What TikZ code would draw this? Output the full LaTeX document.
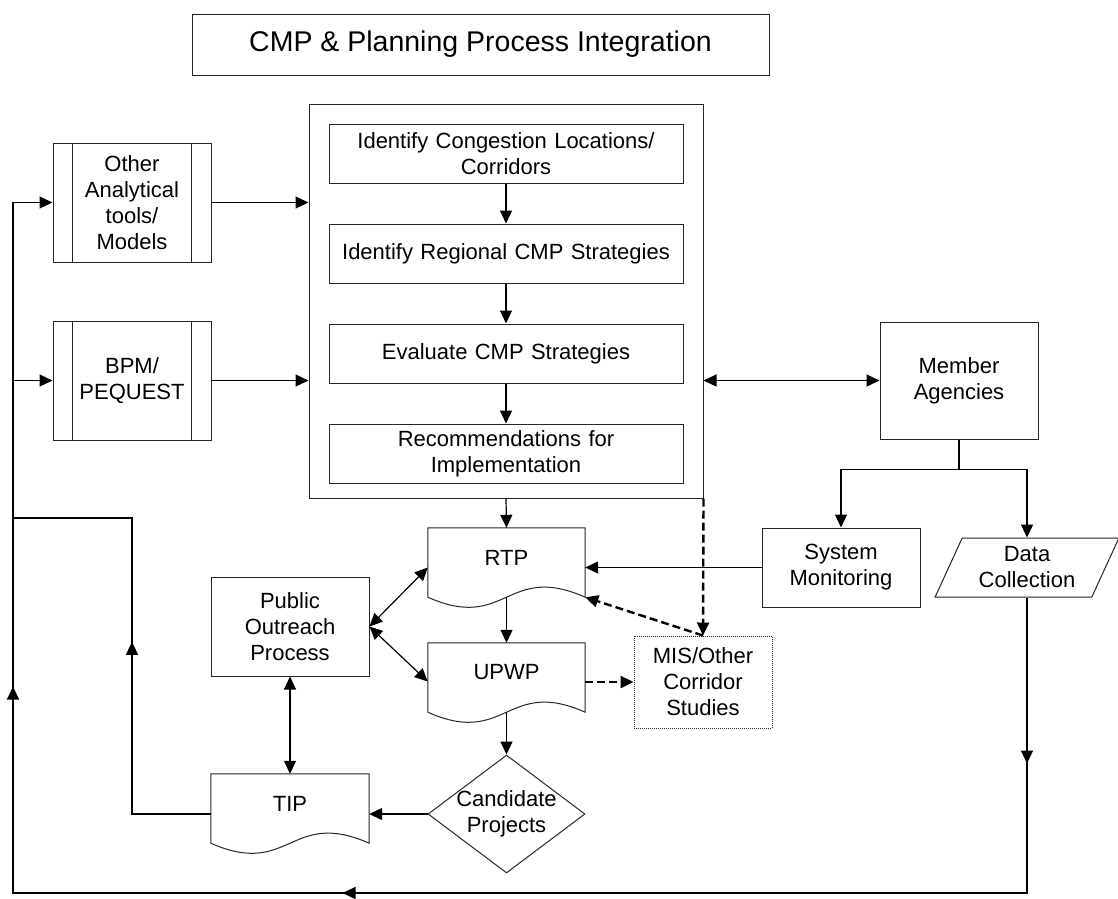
\documentclass[tikz,border=0pt]{standalone}
\usepackage{fontspec}
\setmainfont{Liberation Sans}
\usepackage{tikz}
\usetikzlibrary{arrows.meta,positioning,shapes.geometric,calc,decorations.markings}

\newcommand{\diagfont}{\fontsize{22}{26}\selectfont}
\newcommand{\cmptitlefont}{\fontsize{28.5}{32}\selectfont}
% wavy-bottom document outline round a named node
\newcommand{\docoutline}[1]{%
  \draw[boxline] (#1.north west) -- (#1.north east) -- ([yshift=-10pt]#1.south east)
    .. controls ($(#1.south)+(0,25)$) and ($(#1.south)+(0,-45)$) .. ([yshift=-10pt]#1.south west) -- cycle;}

\begin{document}
\begin{tikzpicture}[x=1pt, y=1pt,
    boxline/.style={draw=black!85, line width=1pt},
    block/.style={boxline, rectangle, align=center, inner sep=2pt, font=\diagfont},
    innerbox/.style={block, minimum width=354, minimum height=59, text width=340},
    subproc/.style={block, minimum width=158, minimum height=119},
    docnode/.style={rectangle, align=center, inner sep=2pt, font=\diagfont, minimum width=157, minimum height=59},
    decision/.style={diamond, boxline, aspect=1.33, align=center, inner sep=-12pt, minimum width=157, minimum height=118, font=\diagfont},
    iobox/.style={trapezium, trapezium left angle=64, trapezium right angle=116, trapezium stretches=true, boxline, align=center, inner sep=0pt, minimum width=184, minimum height=59, font=\diagfont},
    wire/.style={line width=1.2pt, draw=black},
    arrow/.style={wire, -{Triangle[length=13pt, width=12pt]}},
    dblarrow/.style={wire, {Triangle[length=13pt, width=12pt]}-{Triangle[length=13pt, width=12pt]}},
    dasharrow/.style={arrow, line width=2.4pt, dash pattern=on 8pt off 4pt}
]
\useasboundingbox (0,0) rectangle (1118,-898);

\node[block, font=\cmptitlefont, minimum width=577, minimum height=61] (title) at (480.5,-44.5) {CMP \& Planning Process Integration};

% CMP process column
\node[boxline, rectangle, minimum width=394, minimum height=394] (cmpbox) at (506,-301) {};
\node[innerbox] (idcong) at (506,-153.5) {Identify Congestion Locations/\\Corridors};
\node[innerbox, below=40pt of idcong] (idreg) {Identify Regional CMP Strategies};
\node[innerbox, below=40pt of idreg] (evalcmp) {Evaluate CMP Strategies};
\node[innerbox, below=40pt of evalcmp] (recomm) {Recommendations for\\Implementation};

\node[subproc] (tools) at (132,-202.5) {Other\\Analytical\\tools/\\Models};
\node[subproc] (bpm) at (132,-380.5) {BPM/\\PEQUEST};
\foreach \n in {tools,bpm}
  \draw[boxline] ([xshift=20pt]\n.north west) -- ([xshift=20pt]\n.south west)
                 ([xshift=-20pt]\n.north east) -- ([xshift=-20pt]\n.south east);

\node[block, minimum width=158, minimum height=117] (member) at (959,-380.5) {Member\\Agencies};
\node[block, minimum width=158, minimum height=79] (sysmon) at (841,-567.5) {System\\Monitoring};
\node[iobox] (datacol) at (1027,-567.5) {Data\\Collection};

% planning documents
\node[docnode] (rtp) at (506.5,-557.5) {RTP};
\node[docnode] (upwp) at (506.5,-672.5) {UPWP};
\node[docnode, minimum width=158] (tip) at (290,-803.5) {TIP};
\foreach \d in {rtp,upwp,tip}
  \docoutline{\d};

\node[block, minimum width=158, minimum height=99] (outreach) at (290,-626.5) {Public\\Outreach\\Process};
\node[decision] (cand) at (506.5,-814) {Candidate\\Projects};
\node[block, densely dotted, minimum width=138, minimum height=92] (mis) at (703,-682) {MIS/Other\\Corridor\\Studies};

\coordinate (loopbl) at (13,-893);
\coordinate (loopbr) at (loopbl -| datacol.south);
\coordinate (tipturn) at (132,-518);
\coordinate (mafork) at ($(member.south)+(0,-30)$);

\foreach \a/\b in {idcong/idreg, idreg/evalcmp, evalcmp/recomm}
  \draw[arrow] (\a) -- (\b);
\draw[arrow] (tools.east) -- (tools.east -| cmpbox.west);
\draw[arrow] (bpm.east) -- (bpm.east -| cmpbox.west);
\draw[dblarrow] (cmpbox.east |- member.west) -- (member.west);

\draw[wire] (member.south) -- (mafork);
\draw[arrow] (mafork) -| (sysmon.north);
\draw[arrow] (mafork) -| (datacol.north);
\draw[arrow] (sysmon.west) -- (sysmon.west -| rtp.east);

\draw[arrow] (cmpbox.south) -- (rtp.north);
\draw[arrow] ([yshift=-10pt]rtp.south) -- (upwp.north);
\draw[arrow] ([yshift=-10pt]upwp.south) -- (cand.north);
\draw[arrow] (cand.west) -- (cand.west -| tip.east);
\draw[dblarrow] (outreach.east) -- ([yshift=-10pt]rtp.west);
\draw[dblarrow] (outreach.east) -- ([yshift=-9pt]upwp.west);
\draw[dblarrow] (outreach.south) -- (tip.north);

\draw[dasharrow] (cmpbox.south east) -- (mis.north);
\draw[dasharrow] (mis.north) -- ([yshift=-10pt]rtp.south east);
\draw[dasharrow] (mis.west -| upwp.east) -- (mis.west);

% feedback loops
\draw[wire, postaction={decorate}, decoration={markings,
    mark=at position 251pt with {\arrow{Triangle[length=13pt, width=12pt]}}}]
  (tip.west |- cand.west) -| (tipturn) -- (tipturn -| loopbl);
\draw[arrow, postaction={decorate}, decoration={markings,
    mark=at position 166pt with {\arrow{Triangle[length=13pt, width=12pt]}},
    mark=at position 980pt with {\arrow{Triangle[length=13pt, width=12pt]}},
    mark=at position 1516pt with {\arrow{Triangle[length=13pt, width=12pt]}}}]
  (datacol.south) -- (loopbr) -- (loopbl) -- (tools.west -| loopbl) -- (tools.west);
\draw[arrow] (loopbl |- bpm.west) -- (bpm.west);

\end{tikzpicture}
\end{document}
